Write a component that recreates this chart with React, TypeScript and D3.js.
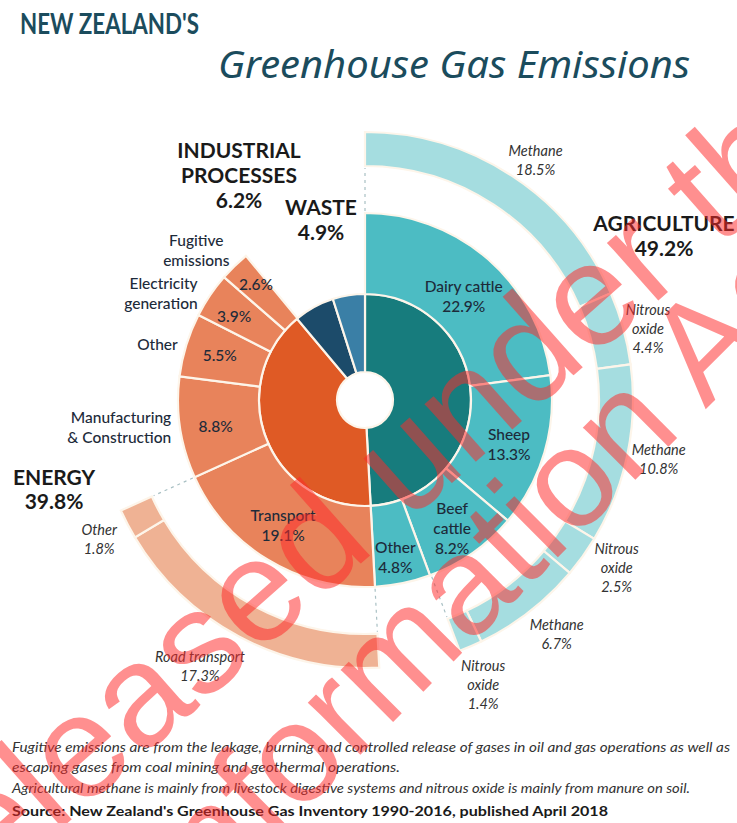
import * as d3 from 'd3';

// sector totals, % of gross emissions
const sectorNames = ['AGRICULTURE', 'ENERGY', 'INDUSTRIAL PROCESSES', 'WASTE'];
const sectorValues = [49.2, 39.8, 6.2, 4.9];
const sectorColors = ['#177c7d', '#df5a25', '#1c4b6a', '#3a7fa6'];

const agriSubNames = ['Dairy cattle', 'Sheep', 'Beef\ncattle', 'Other'];
const agriSubValues = [22.9, 13.3, 8.2, 4.8];

const energySubNames = ['Transport', 'Manufacturing\n& Construction', 'Other', 'Electricity\ngeneration', 'Fugitive\nemissions'];
const energySubValues = [19.1, 8.8, 5.5, 3.9, 2.6];

const agriGasNames = ['Methane', 'Nitrous\noxide', 'Methane', 'Nitrous\noxide', 'Methane', 'Nitrous\noxide'];
const agriGasValues = [18.5, 4.4, 10.8, 2.5, 6.7, 1.4];

const transportNames = ['Road transport', 'Other'];
const transportValues = [17.3, 1.8];

const footnotes = [
  'Fugitive emissions are from the leakage, burning and controlled release of gases in oil and gas operations as well as',
  'escaping gases from coal mining and geothermal operations.',
  'Agricultural methane is mainly from livestock digestive systems and nitrous oxide is mainly from manure on soil.',
];
const source = "Source: New Zealand's Greenhouse Gas Inventory 1990-2016, published April 2018";
const watermark = ['Released under the', 'Official Information Act'];

const W = 737;
const H = 823;
const cx = 365;
const cy = 400;
const R = { hole: 28, inner: 106, mid: 187, outIn: 234, outOut: 268 };

const colors = {
  agriMid: '#4cbcc3',
  agriOut: '#a5dde0',
  enMid: '#e8835b',
  enOut: '#efb294',
  sep: '#fdf5ea',
  dark: '#1d2b3a',
  ital: '#333',
  title: '#1b4c5d',
};

type Seg = { name: string; value: number; a0: number; a1: number };

const total = d3.sum(sectorValues);
const angle = d3.scaleLinear().domain([0, total]).range([0, 2 * Math.PI]);

function stack(names: string[], values: number[], start: number): Seg[] {
  let acc = start;
  return values.map((v, i) => {
    const s = { name: names[i], value: v, a0: angle(acc), a1: angle(acc + v) };
    acc += v;
    return s;
  });
}

const sectors = stack(sectorNames, sectorValues, 0);
const agriSubs = stack(agriSubNames, agriSubValues, 0);
const energySubs = stack(energySubNames, energySubValues, sectorValues[0]);
const agriGases = stack(agriGasNames, agriGasValues, 0);
const transportGases = stack(transportNames, transportValues, sectorValues[0]);

const arc = d3.arc<any>();
function path(s: Seg, r0: number, r1: number) {
  return arc({ innerRadius: r0, outerRadius: r1, startAngle: s.a0, endAngle: s.a1 }) as string;
}
function polar(r: number, a: number): [number, number] {
  return [cx + r * Math.sin(a), cy - r * Math.cos(a)];
}
const mid = (s: Seg) => (s.a0 + s.a1) / 2;

function Lines(props: {
  x: number; y: number; lines: string[]; lh: number; anchor?: string;
  size: number; weight?: number; italic?: boolean; fill: string;
}) {
  const { x, y, lines, lh, anchor = 'middle', size, weight = 400, italic, fill } = props;
  const y0 = y - ((lines.length - 1) * lh) / 2;
  return (
    <text
      x={x} y={y0} textAnchor={anchor} fontSize={size} fontWeight={weight}
      fontStyle={italic ? 'italic' : 'normal'} fill={fill} dominantBaseline="central"
    >
      {lines.map((l, i) => (
        <tspan key={i} x={x} y={y0 + i * lh}>{l}</tspan>
      ))}
    </text>
  );
}

const pct = (v: number) => `${v.toFixed(1)}%`;

// small layout nudges for label placement
const agriSubNudge = [[0, 9], [0, 2], [1, 5], [0, 10]];
const energyNameNudge = [[0, 0], [0, -2], [0, 2], [-5, 3], [-32, -10]];
const energyPctNudge = [[0, 0], [1, 3], [0, 0], [-5, 1], [-3, -7]];
const agriGasNudge = [[6, 10], [-6, 8], [0, -3], [8, -8], [8, -4], [0, 8]];
const transportNudge = [[-24, 1], [0, 0]];

export default function App() {
  const gapAngles = [0, agriGases[agriGases.length - 1].a1, angle(sectorValues[0]), transportGases[1].a1];
  return (
    <svg
      width={W} height={H} viewBox={`0 0 ${W} ${H}`}
      style={{ position: 'absolute', left: 0, top: 0, background: '#fff' }}
      fontFamily="Lato, 'Open Sans', sans-serif"
    >
      <rect width={W} height={H} fill="#fff" />
      <text x={20} y={34} fontSize={29} fontWeight={700} fill={colors.title} textLength={179} lengthAdjust="spacingAndGlyphs">
        NEW ZEALAND'S
      </text>
      <text x={218} y={78} fontSize={38} fontStyle="italic" fill={colors.title} fontFamily="'Noto Sans', sans-serif" textLength={472} lengthAdjust="spacingAndGlyphs">
        Greenhouse Gas Emissions
      </text>

      <g stroke={colors.sep} strokeWidth={2.2}>
        {sectors.map((s, i) => (
          <path key={'s' + i} d={path(s, R.hole, R.inner)} transform={`translate(${cx},${cy})`} fill={sectorColors[i]} />
        ))}
        {agriSubs.map((s, i) => (
          <path key={'a' + i} d={path(s, R.inner, R.mid)} transform={`translate(${cx},${cy})`} fill={colors.agriMid} />
        ))}
        {energySubs.map((s, i) => (
          <path key={'e' + i} d={path(s, R.inner, R.mid)} transform={`translate(${cx},${cy})`} fill={colors.enMid} />
        ))}
        {agriGases.map((s, i) => (
          <path key={'g' + i} d={path(s, R.outIn, R.outOut)} transform={`translate(${cx},${cy})`} fill={colors.agriOut} />
        ))}
        {transportGases.map((s, i) => (
          <path key={'t' + i} d={path(s, R.outIn, R.outOut)} transform={`translate(${cx},${cy})`} fill={colors.enOut} />
        ))}
      </g>

      {gapAngles.map((a, i) => {
        const [x1, y1] = polar(R.mid + 2, a);
        const [x2, y2] = polar(R.outIn - 2, a);
        return <line key={'d' + i} x1={x1} y1={y1} x2={x2} y2={y2} stroke="#a9c0c4" strokeWidth={1.2} strokeDasharray="3,4" />;
      })}

      {/* middle ring labels */}
      {agriSubs.map((s, i) => {
        const [x, y] = polar(150, mid(s));
        return (
          <Lines key={'al' + i} x={x + agriSubNudge[i][0]} y={y + agriSubNudge[i][1]}
            lines={[...s.name.split('\n'), pct(s.value)]} lh={20} size={15.5} weight={500} fill={colors.dark} />
        );
      })}
      {energySubs.map((s, i) => {
        if (i === 0) {
          const [x, y] = polar(150, mid(s));
          return (
            <Lines key={'el' + i} x={x - 4} y={y - 3} lines={[s.name, pct(s.value)]} lh={20} size={15.5} weight={500} fill={colors.dark} />
          );
        }
        const [px, py] = polar(152, mid(s));
        const [nx, ny] = polar(196, mid(s));
        return (
          <g key={'el' + i}>
            <Lines x={px + energyPctNudge[i][0]} y={py + energyPctNudge[i][1]} lines={[pct(s.value)]} lh={20} size={15.5} weight={500} fill={colors.dark} />
            <Lines x={nx + energyNameNudge[i][0]} y={ny + energyNameNudge[i][1]} lines={s.name.split('\n')}
              lh={20} size={15.5} weight={500} fill={colors.dark} anchor={i === 4 ? 'middle' : 'end'} />
          </g>
        );
      })}

      {/* outer ring labels */}
      {agriGases.map((s, i) => {
        const [x, y] = polar(300, mid(s));
        return (
          <Lines key={'gl' + i} x={x + agriGasNudge[i][0]} y={y + agriGasNudge[i][1]}
            lines={[...s.name.split('\n'), pct(s.value)]} lh={19} size={14.5} italic fill={colors.ital} />
        );
      })}
      {transportGases.map((s, i) => {
        const [x, y] = polar(300, mid(s));
        return (
          <Lines key={'tl' + i} x={x + transportNudge[i][0]} y={y + transportNudge[i][1]}
            lines={[s.name, pct(s.value)]} lh={19} size={14.5} italic fill={colors.ital} />
        );
      })}

      {/* sector labels */}
      <Lines x={239} y={174} lines={['INDUSTRIAL', 'PROCESSES', pct(sectorValues[2])]} lh={25} size={21} weight={700} fill="#1a1a1a" />
      <Lines x={321} y={218} lines={[sectorNames[3], pct(sectorValues[3])]} lh={25} size={21} weight={700} fill="#1a1a1a" />
      <Lines x={664} y={234} lines={[sectorNames[0], pct(sectorValues[0])]} lh={25} size={21} weight={700} fill="#1a1a1a" />
      <Lines x={54} y={488} lines={[sectorNames[1], pct(sectorValues[1])]} lh={24} size={21} weight={700} fill="#1a1a1a" />

      {/* notes */}
      <g fontSize={13} fontStyle="italic" fill="#333">
        <text x={12} y={752} textLength={718} lengthAdjust="spacingAndGlyphs">{footnotes[0]}</text>
        <text x={12} y={772} textLength={388} lengthAdjust="spacingAndGlyphs">{footnotes[1]}</text>
        <text x={12} y={793} textLength={678} lengthAdjust="spacingAndGlyphs">{footnotes[2]}</text>
      </g>
      <text x={12} y={816} fontSize={14} fontWeight={700} fill="#1a1a1a" textLength={596} lengthAdjust="spacingAndGlyphs">{source}</text>

      {/* release watermark */}
      <g fill="#ff2a2a" opacity={0.52} fontFamily="'Liberation Sans', Arial, sans-serif" fontWeight={400} style={{ pointerEvents: 'none' }}>
        <text fontSize={146} transform="translate(-85,958) rotate(-41.5)">{watermark[0]}</text>
        <text fontSize={140} transform="translate(-140,1255) rotate(-45)">{watermark[1]}</text>
      </g>
    </svg>
  );
}
